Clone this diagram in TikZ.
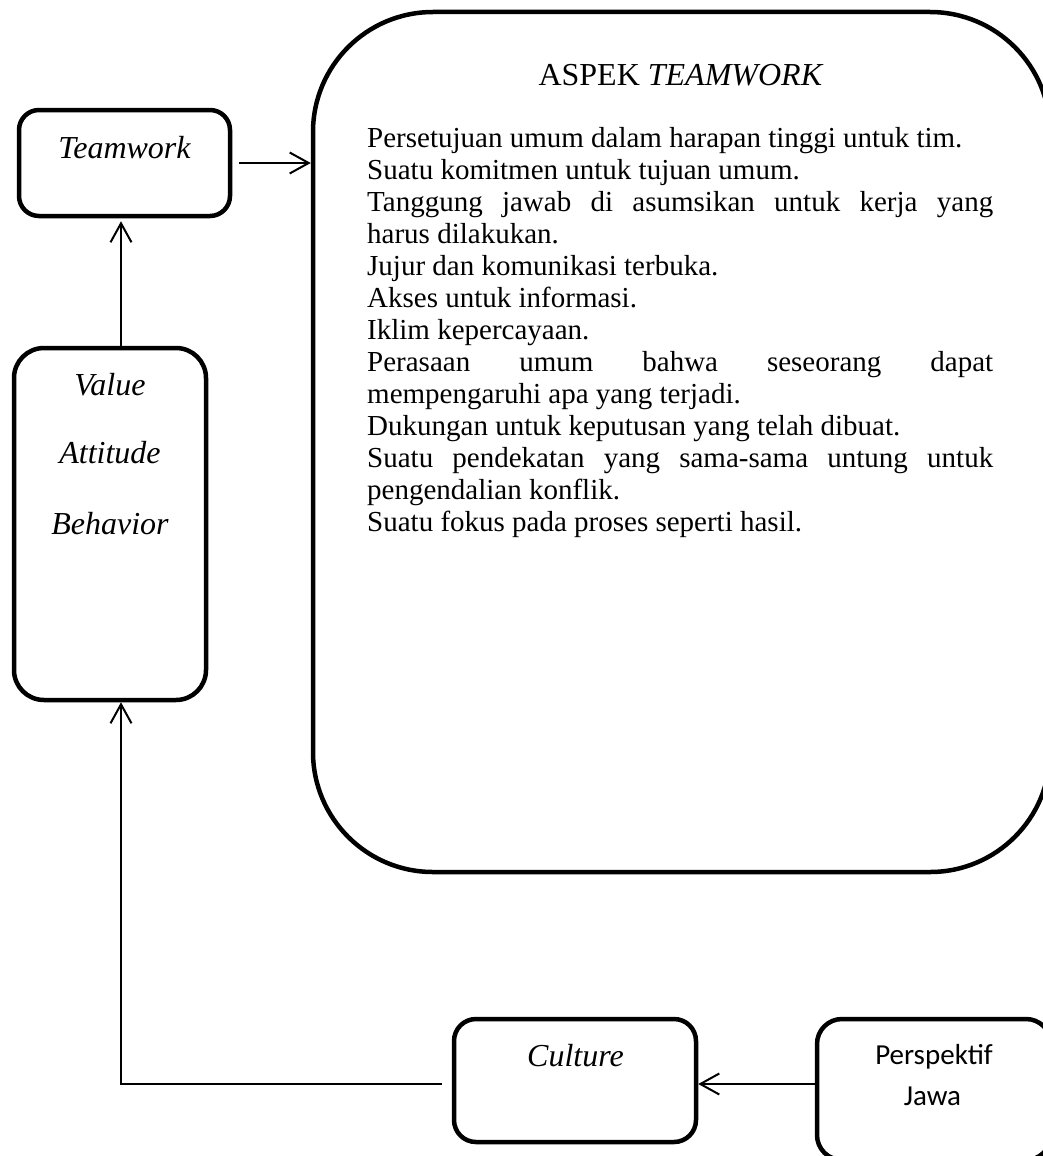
\documentclass[tikz,border=0pt]{standalone}
\usepackage{fontspec}
\setmainfont{Liberation Serif}
\newfontfamily\calibrifont{Carlito}
\usepackage{tikz}
\usetikzlibrary{arrows.meta}
\tikzset{
  box/.style={rectangle, draw=black, line width=4.5pt, inner sep=0pt},
  lbl/.style={font=\fontsize{32}{38}\selectfont\itshape, inner sep=0pt, anchor=base},
  arrow/.style={-{Straight Barb[length=19pt, width=21pt]}, line width=2pt, color=black}
}

\begin{document}
\begin{tikzpicture}[x=1pt, y=-1pt]
\useasboundingbox (0,0) rectangle (1042,1156);

% Boxes
\node[box, rounded corners=20pt, minimum width=211pt, minimum height=106pt] (tw) at (124.5,163) {};
\node[box, rounded corners=30pt, minimum width=192pt, minimum height=352pt] (vab) at (110,524) {};
\node[box, rounded corners=120pt, minimum width=737pt, minimum height=860pt] (aspek) at (681.5,442) {};
\node[box, rounded corners=22pt, minimum width=242pt, minimum height=123pt] (cult) at (575,1080.5) {};
\node[box, rounded corners=25pt, minimum width=234pt, minimum height=141pt] (jawa) at (934,1089.5) {};

% Labels
\node[lbl] (twtxt) at ([yshift=5pt]tw.center) {Teamwork};
\node[lbl] (valtxt) at ([yshift=-50pt]vab.north) {Value};
\node[lbl] (atttxt) at ([yshift=-118pt]vab.north) {Attitude};
\node[lbl] (behtxt) at ([yshift=-189pt]vab.north) {Behavior};
\node[lbl, xshift=0.5pt] (culttxt) at ([yshift=14.5pt]cult.center) {Culture};
\node[lbl, font=\fontsize{29}{35}\selectfont\calibrifont] (jawatxt1) at ([yshift=25.5pt]jawa.center) {Perspektif};
\node[lbl, font=\fontsize{29}{35}\selectfont\calibrifont, xshift=-1.5pt] (jawatxt2) at ([yshift=-15.5pt]jawa.center) {Jawa};

% Aspek teamwork
\node[lbl, font=\fontsize{32}{38}\selectfont] (aspekhead) at (681,85) {ASPEK \textit{TEAMWORK}};
\node[anchor=base west, inner sep=0pt, text width=626pt, align=justify,
  font=\fontsize{29}{32}\selectfont] (aspektxt) at (367,147)
  {\parindent=0pt\hyphenpenalty=10000
   Persetujuan umum dalam harapan tinggi untuk tim.\par
   Suatu komitmen untuk tujuan umum.\par
   Tanggung jawab di asumsikan untuk kerja yang\linebreak harus dilakukan.\par
   Jujur dan komunikasi terbuka.\par
   Akses untuk informasi.\par
   Iklim kepercayaan.\par
   Perasaan umum bahwa seseorang dapat\linebreak mempengaruhi apa yang terjadi.\par
   Dukungan untuk keputusan yang telah dibuat.\par
   Suatu pendekatan yang sama-sama untung untuk\linebreak pengendalian konflik.\par
   Suatu fokus pada proses seperti hasil.};

% Connectors
\draw[arrow, shorten <=7pt] (tw.east) -- (tw.east -| aspek.west);
\draw[arrow, shorten >=3pt] ([xshift=11pt]vab.north) -- ([xshift=11pt]vab.north |- tw.south);
\draw[arrow] ([yshift=5.5pt]jawa.west) -- ([yshift=-3.5pt]cult.east);
\draw[arrow, shorten <=10pt] ([yshift=-3.5pt]cult.west) -| ([xshift=11pt]vab.south);
\end{tikzpicture}
\end{document}
